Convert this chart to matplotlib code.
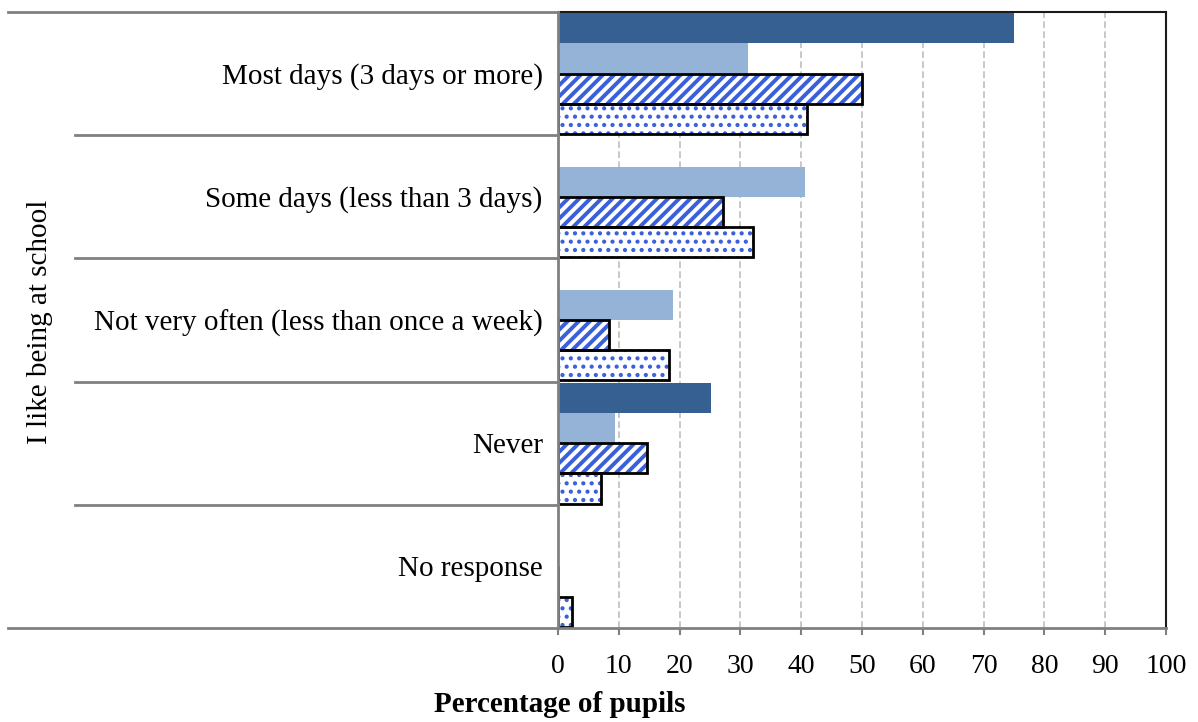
import matplotlib.pyplot as plt
import numpy as np

categories = ["Most days (3 days or more)", "Some days (less than 3 days)",
              "Not very often (less than once a week)", "Never", "No response"]
series_a = [75.0, 0.0, 0.0, 25.1, 0.0]      # dark solid
series_b = [31.3, 40.6, 18.9, 9.4, 0.0]     # light solid
series_c = [50.0, 27.2, 8.4, 14.7, 0.0]     # diagonal hatch
series_d = [41.0, 32.0, 18.3, 7.0, 2.3]     # dotted
x_ticks = [0, 10, 20, 30, 40, 50, 60, 70, 80, 90, 100]

plt.rcParams["font.family"] = ["Liberation Serif", "DejaVu Serif"]
plt.rcParams["hatch.color"] = "#3A5FDB"

fig = plt.figure(figsize=(11.98, 7.22), dpi=100)
ax = fig.add_axes([558 / 1198, 1 - 628 / 722, 608 / 1198, 616 / 722])

y = np.arange(len(categories))
h = 0.245
ax.barh(y - 1.5 * h, series_a, height=h, color="#366092", zorder=3)
ax.barh(y - 0.5 * h, series_b, height=h, color="#95B3D7", zorder=3)
with plt.rc_context({"hatch.linewidth": 2.8}):
    ax.barh(y + 0.5 * h, series_c, height=h, color="white", edgecolor="#3A5FDB",
            hatch="///", linewidth=0, zorder=3)
ax.barh(y + 0.5 * h, series_c, height=h, fill=False, edgecolor="black",
        linewidth=2, zorder=4)
with plt.rc_context({"hatch.linewidth": 1.8}):
    ax.barh(y + 1.5 * h, series_d, height=h, color="white", edgecolor="#3A5FDB",
            hatch="..", linewidth=0, zorder=3)
ax.barh(y + 1.5 * h, series_d, height=h, fill=False, edgecolor="black",
        linewidth=2, zorder=4)

ax.set_xlim(0, 100)
ax.set_ylim(len(categories) - 0.5, -0.5)
ax.set_xticks(x_ticks)
ax.set_yticks(y)
ax.set_yticklabels(categories)
ax.tick_params(axis="y", length=0, pad=11, labelsize=21)
ax.tick_params(axis="x", length=5, width=1.5, color="#808080", pad=14, labelsize=20)
ax.xaxis.grid(True, linestyle=(0, (4, 2)), color="#BFBFBF", linewidth=1.2, zorder=0)
ax.set_axisbelow(True)

for s in ["left", "bottom"]:
    ax.spines[s].set_color("#808080")
    ax.spines[s].set_linewidth(2)
    ax.spines[s].set_zorder(5)
for s in ["top", "right"]:
    ax.spines[s].set_color("#1a1a1a")
    ax.spines[s].set_linewidth(1.5)

# category separators extending to the left (multi-level axis look)
trans = ax.get_yaxis_transform()
bounds = np.arange(len(categories) + 1) - 0.5
for i, b in enumerate(bounds):
    x0 = -0.9046 if i in (0, len(bounds) - 1) else -0.794
    ax.plot([x0, 0], [b, b], transform=trans, color="#808080", lw=2,
            clip_on=False, zorder=5)

fig.text(40 / 1198, 1 - 322 / 722, "I like being at school", rotation=90,
         ha="center", va="center", fontsize=21)
fig.text(560 / 1198, 1 - 705 / 722, "Percentage of pupils", ha="center",
         va="center", fontsize=21, fontweight="bold")

fig.savefig("out.png", dpi=100)
